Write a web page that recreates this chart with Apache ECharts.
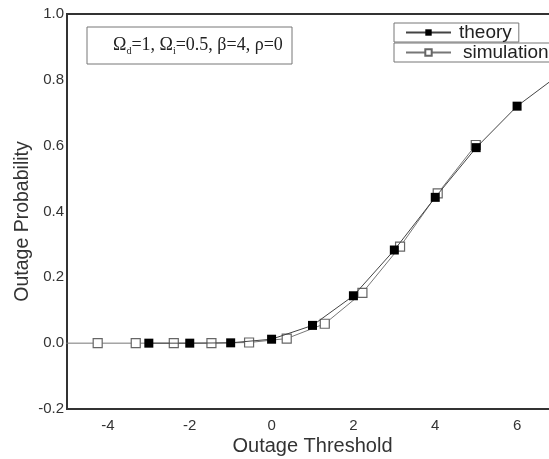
<!DOCTYPE html>
<html><head><meta charset="utf-8">
<script src="https://cdn.jsdelivr.net/npm/echarts@6/dist/echarts.min.js"></script>
<style>html,body{margin:0;padding:0;background:#fff}#c{width:549px;height:459px}</style>
</head><body><div id="c"></div>
<script>
const theoryX = [-3, -2, -1, 0, 1, 2, 3, 4, 5, 6, 7];
const theoryY = [0.0, 0.0, 0.001, 0.012, 0.054, 0.144, 0.283, 0.443, 0.594, 0.720, 0.813];
const simX = [-5.17, -4.25, -3.32, -2.39, -1.47, -0.55, 0.37, 1.30, 2.22, 3.14, 4.06, 4.99];
const simY = [0.0, 0.0, 0.0, 0.0, 0.0, 0.002, 0.014, 0.059, 0.153, 0.293, 0.455, 0.602];
const xTicks = [-4, -2, 0, 2, 4, 6];
const yTicks = [-0.2, 0.0, 0.2, 0.4, 0.6, 0.8, 1.0];

const chart = echarts.init(document.getElementById('c'), null, {renderer: 'canvas'});
const F = 'Liberation Sans, Arial, sans-serif';
chart.setOption({
  animation: false,
  backgroundColor: '#fff',
  grid: {left: 67, top: 14, width: 491, height: 395, show: true, borderColor: '#333', borderWidth: 2,
         backgroundColor: 'transparent', outerBoundsMode: 'none', containLabel: false},
  xAxis: {
    type: 'value', min: -5, max: 7, interval: 1,
    axisLine: {show: true, onZero: false, lineStyle: {color: '#333', width: 2}},
    axisTick: {show: false}, splitLine: {show: false},
    axisLabel: {color: '#333', fontFamily: F, fontSize: 15, margin: 9,
      formatter: v => xTicks.includes(v) ? String(v) : ''},
    name: 'Outage Threshold', nameLocation: 'middle', nameGap: 27, nameMoveOverlap: false,
    nameTextStyle: {color: '#333', fontFamily: F, fontSize: 20}
  },
  yAxis: {
    type: 'value', min: -0.2, max: 1.0, interval: 0.2,
    axisLine: {show: true, onZero: false, lineStyle: {color: '#333', width: 2}},
    axisTick: {show: false}, splitLine: {show: false},
    axisLabel: {color: '#333', fontFamily: F, fontSize: 15, margin: 3,
      formatter: v => { const r = Math.round(v * 10) / 10; return yTicks.includes(r) ? r.toFixed(1) : ''; }},
    name: 'Outage Probability', nameLocation: 'middle', nameGap: 34, nameRotate: 90, nameMoveOverlap: false,
    nameTextStyle: {color: '#333', fontFamily: F, fontSize: 19.5, padding: [0, 20, 0, 0]}
  },
  legend: [
    {data: ['theory'], left: 394, top: 23, padding: [0, 7, 0, 11], itemWidth: 45, itemHeight: 8, itemGap: 4,
     borderColor: '#777', borderWidth: 1,
     textStyle: {fontFamily: F, fontSize: 19, lineHeight: 18, color: '#222', padding: [0,0,0,3]}},
    {data: ['simulation'], left: 394, top: 43, padding: [0, 12, 0, 11], itemWidth: 45, itemHeight: 8,
     borderColor: '#777', borderWidth: 1,
     textStyle: {fontFamily: F, fontSize: 19, lineHeight: 16, color: '#222', padding: [0,0,0,7]}}
  ],
  graphic: [
    {type: 'rect', shape: {x: 87, y: 27, width: 205, height: 37}, style: {fill: '#fff', stroke: '#777', lineWidth: 1}},
    {type: 'text', x: 113, y: 35, style: {
      text: 'Ω{s|d}=1, Ω{s|i}=0.5, β=4, ρ=0',
      fontFamily: 'Liberation Serif, Times New Roman, serif', fontSize: 18, fill: '#222',
      rich: {s: {fontSize: 10, fontFamily: 'Liberation Serif, serif', fill: '#222', padding: [11, 0, 0, 0]}}
    }}
  ],
  series: [
    {name: 'theory', type: 'line', data: theoryX.map((x, i) => [x, theoryY[i]]),
     symbol: 'rect', symbolSize: 9, showSymbol: true, clip: true, z: 3,
     lineStyle: {color: '#444', width: 1}, itemStyle: {color: '#000', borderColor: '#000', borderWidth: 0}},
    {name: 'simulation', type: 'line', data: simX.map((x, i) => [x, simY[i]]),
     symbol: 'rect', symbolSize: 9, showSymbol: true, clip: true, z: 2,
     lineStyle: {color: '#777', width: 1}, itemStyle: {color: '#fff', borderColor: '#666', borderWidth: 1.2}}
  ]
});
</script></body></html>
